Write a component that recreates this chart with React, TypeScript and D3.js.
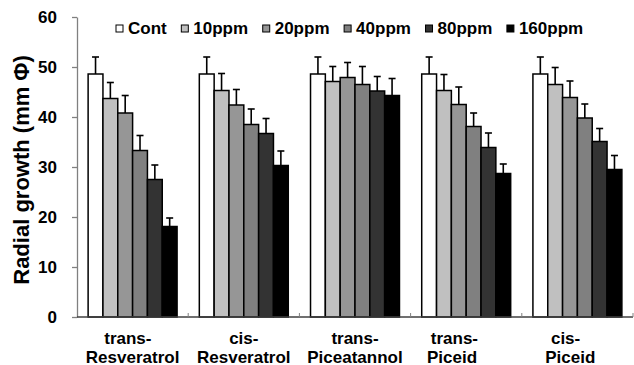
import React, { useEffect, useRef } from 'react';
import * as d3 from 'd3';

// categories (two-line tick labels; trailing spaces nudge a few like the original)
const categories = [
  ['trans-  ', 'Resveratrol'],
  ['cis-', 'Resveratrol'],
  ['trans-', 'Piceatannol'],
  ['trans-     ', 'Piceid      '],
  ['cis-     ', 'Piceid   '],
];

const seriesNames = ['Cont', '10ppm', '20ppm', '40ppm', '80ppm', '160ppm'];

// mean radial growth (mm) per category
const cont = [48.6, 48.6, 48.6, 48.6, 48.6];
const ppm10 = [43.7, 45.3, 47.1, 45.3, 46.5];
const ppm20 = [40.8, 42.4, 47.9, 42.5, 43.9];
const ppm40 = [33.3, 38.5, 46.5, 38.1, 39.8];
const ppm80 = [27.5, 36.7, 45.2, 33.9, 35.1];
const ppm160 = [18.1, 30.3, 44.3, 28.7, 29.5];

// error (upper only)
const contErr = [3.4, 3.4, 3.4, 3.4, 3.4];
const ppm10Err = [3.2, 3.4, 3.0, 3.2, 3.4];
const ppm20Err = [3.5, 3.1, 3.0, 3.5, 3.3];
const ppm40Err = [3.0, 3.1, 3.6, 2.7, 2.8];
const ppm80Err = [2.9, 3.0, 2.9, 2.9, 2.6];
const ppm160Err = [1.7, 2.9, 3.4, 1.9, 2.8];

const yTicks = [0, 10, 20, 30, 40, 50, 60];

const fills = ['#ffffff', '#c0c0c0', '#969696', '#808080', '#333333', '#000000'];

const W = 634;
const H = 365;
const FONT = '"Liberation Sans", Arial, sans-serif';

const App = () => {
  const svgRef = useRef<SVGSVGElement>(null);

  useEffect(() => {
    document.body.style.margin = '0';
    const svg = d3.select(svgRef.current);
    svg.selectAll('*').remove();

    const values = [cont, ppm10, ppm20, ppm40, ppm80, ppm160];
    const errs = [contErr, ppm10Err, ppm20Err, ppm40Err, ppm80Err, ppm160Err];

    const left = 77, right = 633, top = 17, bottom = 317;

    const x0 = d3.scaleBand<number>()
      .domain(d3.range(categories.length))
      .range([left, right])
      .paddingInner(0.2)
      .paddingOuter(0.1);

    const x1 = d3.scaleBand<number>()
      .domain(d3.range(seriesNames.length))
      .range([0, x0.bandwidth()]);

    const y = d3.scaleLinear().domain([0, 60]).range([bottom, top]);

    // y axis
    const yAxis = svg.append('g')
      .attr('transform', `translate(${left},0)`)
      .call(d3.axisLeft(y).tickValues(yTicks).tickSize(5).tickSizeOuter(0).tickPadding(15));
    yAxis.select('.domain').attr('stroke', '#808080').attr('stroke-width', 1.3);
    yAxis.selectAll('.tick line').attr('stroke', '#808080').attr('stroke-width', 1.3);
    yAxis.selectAll('.tick text')
      .attr('font-family', FONT)
      .attr('font-weight', 'bold')
      .attr('font-size', 17)
      .attr('fill', '#000');

    // y title
    svg.append('text')
      .attr('transform', `translate(29,170) rotate(-90)`)
      .attr('text-anchor', 'middle')
      .attr('font-family', FONT)
      .attr('font-weight', 'bold')
      .attr('font-size', 22)
      .text('Radial growth (mm Φ)');

    // bars
    const groups = svg.append('g')
      .selectAll('g')
      .data(categories.map((_, i) => i))
      .join('g')
      .attr('transform', i => `translate(${x0(i)},0)`);

    groups.selectAll('rect')
      .data(ci => values.map((v, si) => ({ si, v: v[ci], e: errs[si][ci] })))
      .join('rect')
      .attr('x', d => x1(d.si)!)
      .attr('y', d => y(d.v))
      .attr('width', x1.bandwidth())
      .attr('height', d => bottom - y(d.v))
      .attr('fill', d => fills[d.si])
      .attr('stroke', '#000')
      .attr('stroke-width', 1.5);

    // error bars
    const eb = groups.selectAll('g.err')
      .data(ci => values.map((v, si) => ({ si, v: v[ci], e: errs[si][ci] })))
      .join('g')
      .attr('class', 'err')
      .attr('stroke', '#000')
      .attr('stroke-width', 1.6);
    eb.append('line')
      .attr('x1', d => x1(d.si)! + x1.bandwidth() / 2)
      .attr('x2', d => x1(d.si)! + x1.bandwidth() / 2)
      .attr('y1', d => y(d.v))
      .attr('y2', d => y(d.v + d.e));
    eb.append('line')
      .attr('x1', d => x1(d.si)! + x1.bandwidth() / 2 - 3.5)
      .attr('x2', d => x1(d.si)! + x1.bandwidth() / 2 + 3.5)
      .attr('y1', d => y(d.v + d.e))
      .attr('y2', d => y(d.v + d.e));

    // x axis line + category ticks
    svg.append('line')
      .attr('x1', left).attr('x2', right)
      .attr('y1', bottom).attr('y2', bottom)
      .attr('stroke', '#404040').attr('stroke-width', 1.5);
    svg.append('g')
      .selectAll('line')
      .data(categories.map((_, i) => i))
      .join('line')
      .attr('x1', i => x0(i)! + x0.step() * 0.9)
      .attr('x2', i => x0(i)! + x0.step() * 0.9)
      .attr('y1', bottom)
      .attr('y2', bottom - 4)
      .attr('stroke', '#808080')
      .attr('stroke-width', 1);

    // category labels, one text per line
    categories.forEach((lines, i) => {
      const cx = x0(i)! + x0.bandwidth() / 2;
      lines.forEach((ln, k) => {
        svg.append('text')
          .attr('x', cx)
          .attr('y', 343.5 + k * 19)
          .attr('text-anchor', 'middle')
          .attr('font-family', FONT)
          .attr('font-weight', 'bold')
          .attr('font-size', 17)
          .style('white-space', 'pre')
          .text(ln);
      });
    });

    // legend
    const leg = svg.append('g');
    let lx = 116;
    seriesNames.forEach((name, si) => {
      leg.append('rect')
        .attr('x', lx).attr('y', 25)
        .attr('width', 7).attr('height', 7)
        .attr('fill', fills[si])
        .attr('stroke', '#000')
        .attr('stroke-width', 1);
      const t = leg.append('text')
        .attr('x', lx + 12)
        .attr('y', 33.5)
        .attr('font-family', FONT)
        .attr('font-weight', 'bold')
        .attr('font-size', 17)
        .text(name);
      const w = (t.node() as SVGTextElement).getComputedTextLength();
      lx += 12 + w + 14.6;
    });
  }, []);

  return <svg ref={svgRef} width={W} height={H} style={{ display: 'block', background: '#fff' }}></svg>;
};

export default App;
